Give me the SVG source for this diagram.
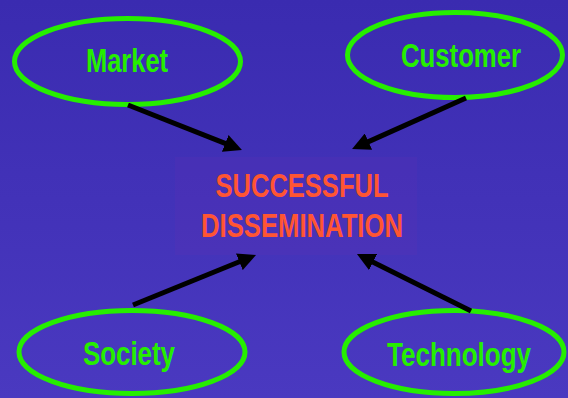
<svg xmlns="http://www.w3.org/2000/svg" width="568" height="398" viewBox="0 0 568 398">
  <defs>
    <linearGradient id="bg" x1="0" y1="0" x2="0" y2="1">
      <stop offset="0" stop-color="#3a2bb0"/>
      <stop offset="1" stop-color="#4a39c0"/>
    </linearGradient>
    <marker id="head" viewBox="0 0 18 18" markerWidth="18" markerHeight="18" markerUnits="userSpaceOnUse" refX="6" refY="9" orient="auto">
      <path d="M0,0 L18,9 L0,18 Z" fill="#000"/>
    </marker>
    <style>
      .oval { fill: none; stroke: #26ee00; stroke-width: 5; }
      .label { font-family: "Liberation Sans", Arial, sans-serif; font-weight: bold; font-size: 33px; fill: #26ee00; text-anchor: middle; }
      .title { font-family: "Liberation Sans", Arial, sans-serif; font-weight: bold; font-size: 34px; fill: #ff5533; text-anchor: middle; }
      .arrow { stroke: #000; stroke-width: 5; fill: none; marker-end: url(#head); }
    </style>
  </defs>

  <rect x="0" y="0" width="568" height="398" fill="url(#bg)"/>

  <g id="center">
    <rect x="175" y="157" width="242" height="98" fill="#5a2eb4" fill-opacity="0.25"/>
    <text class="title" x="302" y="197" textLength="173" lengthAdjust="spacingAndGlyphs">SUCCESSFUL</text>
    <text class="title" x="302" y="237" textLength="202" lengthAdjust="spacingAndGlyphs">DISSEMINATION</text>
  </g>

  <g id="market">
    <ellipse class="oval" cx="127.5" cy="61.5" rx="113" ry="43"/>
    <text class="label" x="127" y="72" textLength="82" lengthAdjust="spacingAndGlyphs">Market</text>
  </g>

  <g id="customer">
    <ellipse class="oval" cx="455" cy="55" rx="107.5" ry="42.5"/>
    <text class="label" x="461" y="67" textLength="120" lengthAdjust="spacingAndGlyphs">Customer</text>
  </g>

  <g id="society">
    <ellipse class="oval" cx="132" cy="352" rx="113" ry="41.5"/>
    <text class="label" x="129" y="365" textLength="92" lengthAdjust="spacingAndGlyphs">Society</text>
  </g>

  <g id="technology">
    <ellipse class="oval" cx="454" cy="352" rx="110" ry="41.5"/>
    <text class="label" x="459" y="366" textLength="144" lengthAdjust="spacingAndGlyphs">Technology</text>
  </g>

  <g id="connectors">
    <line class="arrow" x1="128" y1="105" x2="230.8" y2="145.6"/>
    <line class="arrow" x1="466" y1="98" x2="363" y2="144.1"/>
    <line class="arrow" x1="133" y1="305" x2="244.9" y2="259.5"/>
    <line class="arrow" x1="471" y1="311" x2="367.7" y2="259.4"/>
  </g>
</svg>
